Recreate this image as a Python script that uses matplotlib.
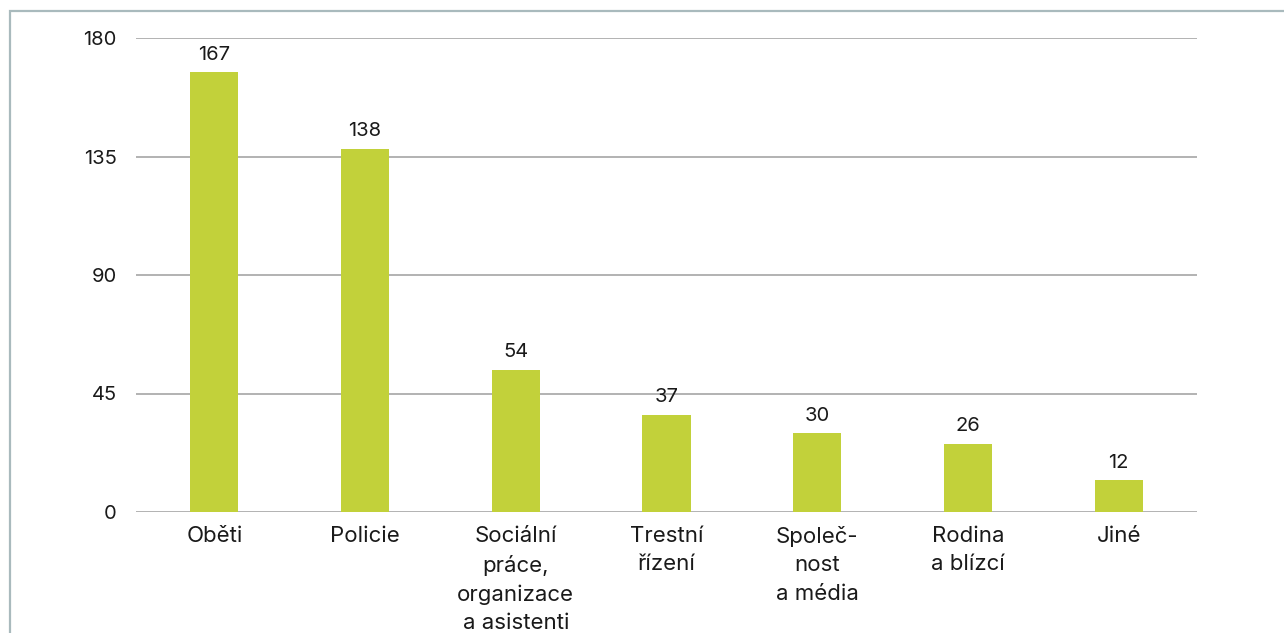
#!/usr/bin/env python3

import matplotlib
matplotlib.use('Agg')
import matplotlib.pyplot as plt
from matplotlib.patches import Rectangle

categories = ['Oběti', 'Policie', 'Sociální\npráce,\norganizace\na asistenti',
              'Trestní\nřízení', 'Společ-\nnost\na média', 'Rodina\na blízcí', 'Jiné']
values = [167, 138, 54, 37, 30, 26, 12]
yticks = [0, 45, 90, 135, 180]

plt.rcParams['font.family'] = ['Inter', 'DejaVu Sans']

W, H = 1284, 633
fig = plt.figure(figsize=(W / 100, H / 100), dpi=100)
ax = fig.add_axes([136 / W, 1 - 512 / H, (1197 - 136) / W, (512 - 38) / H])

x = list(range(len(categories)))
bars = ax.bar(x, values, width=0.32, color='#c2d13a', zorder=3)
for b, v in zip(bars, values):
	ax.annotate(str(v), (b.get_x() + b.get_width() / 2, v), xytext=(0, 6),
				textcoords='offset points', ha='center', va='bottom',
				fontsize=14.5, color='#1a1a1a')

ax.set_xlim(-0.52, len(categories) - 0.48)
ax.set_ylim(0, 180)
ax.set_yticks(yticks)
ax.set_xticks(x)
ax.set_xticklabels(categories, fontsize=16, color='#1a1a1a', linespacing=1.52)
ax.tick_params(axis='y', length=0, pad=14, labelsize=14.5, labelcolor='#1a1a1a')
ax.tick_params(axis='x', length=0, pad=10)
ax.grid(axis='y', color='#a6a6a6', linewidth=1.2, zorder=0)
for s in ax.spines.values():
	s.set_visible(False)

# outer frame, runs off the right and bottom edges
fig.patches.append(Rectangle((10 / W, -0.2), 1.0, 1 - 11 / H + 0.2,
							 transform=fig.transFigure, fill=False,
							 edgecolor='#a9babd', linewidth=1.6))

fig.savefig('out.png', dpi=100)
